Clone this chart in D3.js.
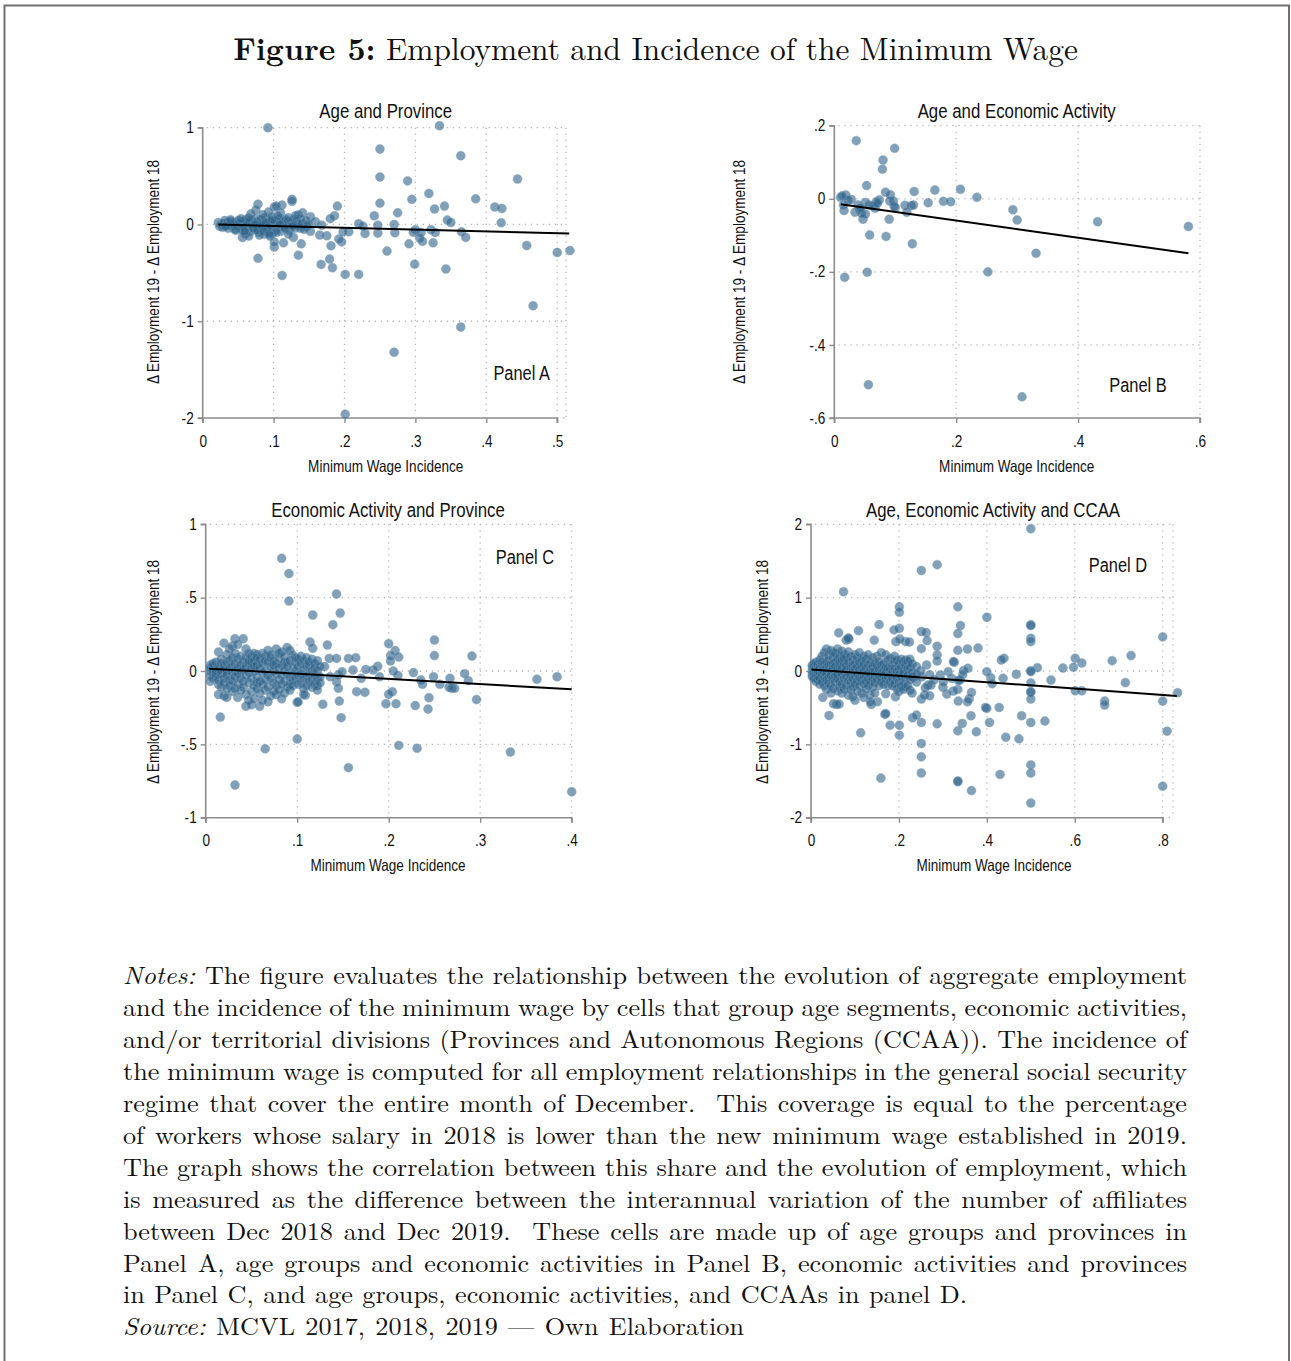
<!DOCTYPE html>
<html><head><meta charset="utf-8">
<script src="https://cdn.jsdelivr.net/npm/d3@7"></script>
<style>body{margin:0;background:#fff}svg{display:block}</style>
</head><body>
<svg id="fig" width="1291" height="1361"></svg>
<script>
// ---------------- DATA ----------------
const figureTitleBold = "Figure 5:";
const figureTitleRest = " Employment and Incidence of the Minimum Wage";
const panelTitles = ["Age and Province", "Age and Economic Activity", "Economic Activity and Province", "Age, Economic Activity and CCAA"];
const panelLabels = ["Panel A", "Panel B", "Panel C", "Panel D"];
const xAxisTitle = "Minimum Wage Incidence";
const yAxisTitle = "\u0394 Employment 19 - \u0394 Employment 18";

const xTicksA = [0, .1, .2, .3, .4, .5], xTickLabelsA = ["0", ".1", ".2", ".3", ".4", ".5"];
const yTicksA = [-2, -1, 0, 1], yTickLabelsA = ["-2", "-1", "0", "1"];
const xTicksB = [0, .2, .4, .6], xTickLabelsB = ["0", ".2", ".4", ".6"];
const yTicksB = [-.6, -.4, -.2, 0, .2], yTickLabelsB = ["-.6", "-.4", "-.2", "0", ".2"];
const xTicksC = [0, .1, .2, .3, .4], xTickLabelsC = ["0", ".1", ".2", ".3", ".4"];
const yTicksC = [-1, -.5, 0, .5, 1], yTickLabelsC = ["-1", "-.5", "0", ".5", "1"];
const xTicksD = [0, .2, .4, .6, .8], xTickLabelsD = ["0", ".2", ".4", ".6", ".8"];
const yTicksD = [-2, -1, 0, 1, 2], yTickLabelsD = ["-2", "-1", "0", "1", "2"];

// fitted lines (endpoints)
const fitA = [[0.022, 0.0], [0.517, -0.093]];
const fitB = [[0.0105, -0.015], [0.581, -0.149]];
const fitC = [[0.004, 0.016], [0.4, -0.125]];
const fitD = [[0.001, 0.02], [0.832, -0.34]];

// Panel A points (incidence, delta employment)
const pointsA = [
[0.092,1.0],[0.334,1.02],[0.25,0.78],[0.364,0.71],[0.25,0.49],[0.289,0.45],[0.444,0.47],[0.319,0.32],[0.295,0.26],[0.385,0.265],
[0.25,0.22],[0.341,0.19],[0.327,0.16],[0.412,0.18],[0.422,0.165],[0.275,0.12],[0.242,0.09],[0.19,0.19],[0.345,0.045],[0.35,0.02],
[0.421,0.017],[0.22,0.007],[0.226,-0.017],[0.27,0.0],[0.247,-0.007],[0.247,-0.09],[0.271,-0.086],[0.3,-0.055],[0.297,-0.08],[0.308,-0.083],
[0.306,-0.14],[0.31,-0.175],[0.322,-0.055],[0.328,-0.083],[0.325,-0.19],[0.365,-0.076],[0.371,-0.134],[0.206,-0.076],[0.198,-0.076],[0.229,-0.093],
[0.291,-0.2],[0.26,-0.275],[0.457,-0.217],[0.5,-0.29],[0.518,-0.27],[0.299,-0.41],[0.343,-0.46],[0.466,-0.84],[0.364,-1.06],[0.27,-1.32],
[0.201,-1.96],[0.201,-0.516],[0.22,-0.516],[0.167,-0.413],[0.183,-0.447],[0.179,-0.358],[0.181,-0.22],[0.196,-0.18],[0.192,-0.15],[0.135,-0.317],
[0.112,-0.527],[0.078,-0.35],[0.114,-0.19],[0.101,-0.234],[0.101,-0.18],[0.128,-0.134],[0.139,-0.2],[0.175,-0.117],[0.165,-0.11],[0.152,-0.07],
[0.186,0.09],[0.18,0.06],[0.141,0.12],[0.135,0.1],[0.126,0.26],[0.126,0.24],[0.112,0.2],[0.101,0.18],[0.104,0.19],[0.078,0.21],
[0.093,0.13],[0.152,0.08],[0.159,0.028],[0.168,-0.007],[0.147,-0.024],[0.138,-0.04],[0.056,-0.135],
[0.022,0.02],[0.024,-0.02],[0.026,0.0],[0.028,-0.03],[0.03,0.01],[0.031,0.04],[0.033,-0.01],[0.035,0.02],[0.036,-0.04],[0.038,0.0],
[0.04,0.03],[0.041,-0.02],[0.043,0.01],[0.045,-0.05],[0.046,0.02],[0.048,-0.01],[0.05,0.04],[0.051,-0.03],[0.053,0.0],[0.055,0.03],
[0.056,-0.06],[0.058,0.01],[0.06,-0.02],[0.061,0.05],[0.063,-0.04],[0.064,0.0],[0.066,0.02],[0.067,-0.07],[0.069,0.04],[0.07,-0.01],
[0.072,0.01],[0.073,-0.05],[0.075,0.06],[0.076,-0.02],[0.078,0.03],[0.079,-0.08],[0.081,0.0],[0.082,0.05],[0.084,-0.03],[0.085,0.02],
[0.087,-0.1],[0.088,0.07],[0.09,-0.04],[0.091,0.01],[0.093,-0.06],[0.094,0.03],[0.096,-0.01],[0.097,0.08],[0.099,-0.09],[0.1,0.0],
[0.102,0.04],[0.103,-0.05],[0.105,0.02],[0.107,-0.02],[0.108,0.06],[0.11,-0.07],[0.112,0.01],[0.113,0.04],[0.115,-0.03],[0.117,0.05],
[0.118,-0.01],[0.12,0.03],[0.122,-0.06],[0.124,0.02],[0.126,0.0],[0.128,0.05],[0.13,-0.04],[0.132,0.03],[0.134,0.0],[0.136,-0.02],
[0.138,0.06],[0.14,0.01],[0.143,-0.05],[0.146,0.04],[0.149,0.0],[0.06,-0.1],[0.065,-0.12],[0.08,-0.11],[0.095,-0.12],[0.085,0.1],
[0.11,0.12],[0.075,0.15],[0.068,0.11],[0.032,-0.02],[0.044,0.0],[0.052,0.01],[0.057,-0.03],[0.062,0.02],[0.071,-0.04],[0.074,0.0],
[0.077,-0.06],[0.083,-0.01],[0.089,0.02],[0.092,-0.03],[0.098,0.05],[0.104,-0.08],[0.109,0.0],[0.116,-0.04],[0.121,0.07],[0.127,-0.02],
[0.054,0.06],[0.059,-0.07],[0.065,0.07],[0.086,-0.07],[0.047,-0.06],[0.039,0.05],[0.121,-0.1],[0.131,0.09],[0.106,0.09],[0.094,-0.1]
];

// Panel B points
const pointsB = [
[0.036,0.159],[0.099,0.138],[0.08,0.106],[0.079,0.081],[0.053,0.036],[0.084,0.018],[0.092,0.011],[0.131,0.02],[0.165,0.024],[0.207,0.026],
[0.234,0.004],[0.01,0.004],[0.019,0.01],[0.013,0.008],[0.028,-0.002],[0.016,-0.032],[0.015,-0.017],[0.034,-0.037],[0.041,-0.029],[0.047,-0.056],
[0.051,-0.042],[0.051,-0.01],[0.057,-0.017],[0.067,-0.026],[0.074,-0.003],[0.069,-0.008],[0.063,-0.02],[0.091,-0.006],[0.097,-0.006],[0.098,-0.02],
[0.1,-0.024],[0.09,-0.056],[0.058,-0.099],[0.085,-0.103],[0.116,-0.018],[0.119,-0.037],[0.126,-0.019],[0.13,-0.017],[0.128,-0.123],[0.154,-0.011],
[0.179,-0.007],[0.191,-0.008],[0.293,-0.03],[0.3,-0.058],[0.432,-0.063],[0.581,-0.076],[0.331,-0.149],[0.252,-0.2],[0.017,-0.215],[0.054,-0.201],
[0.056,-0.509],[0.308,-0.542],[0.023,-0.004],[0.039,-0.017],[0.045,-0.04],[0.043,-0.025],[0.071,-0.012]
];

// Panel C points
const pointsC = [
[0.083,0.768],[0.091,0.664],[0.091,0.477],[0.143,0.525],[0.147,0.395],[0.117,0.382],[0.139,0.316],[0.133,0.177],[0.114,0.198],[0.117,0.155],
[0.2,0.186],[0.207,0.139],[0.202,0.105],[0.211,0.095],[0.202,0.068],[0.25,0.211],[0.25,0.105],[0.291,0.102],[0.188,0.032],[0.227,-0.011],
[0.249,-0.039],[0.283,-0.018],[0.287,-0.066],[0.362,-0.057],[0.384,-0.039],[0.296,-0.195],[0.235,-0.061],[0.237,-0.091],[0.256,-0.091],[0.267,-0.05],
[0.269,-0.118],[0.272,-0.118],[0.266,-0.111],[0.204,-0.141],[0.2,-0.159],[0.197,-0.223],[0.208,-0.223],[0.229,-0.236],[0.244,-0.182],[0.243,-0.259],
[0.211,-0.507],[0.231,-0.527],[0.333,-0.552],[0.4,-0.823],[0.156,-0.659],[0.1,-0.464],[0.065,-0.53],[0.032,-0.777],[0.016,-0.314],[0.148,-0.318],
[0.146,-0.205],[0.128,-0.227],[0.1,-0.214],[0.109,-0.164],[0.165,-0.141],[0.174,-0.145],[0.156,0.086],[0.164,0.091],[0.183,0.007],[0.17,-0.05],
[0.143,-0.073],[0.145,-0.118],[0.145,-0.027],[0.13,0.03],[0.135,0.086],[0.143,0.086],[0.149,-0.005],[0.161,0.007],[0.136,-0.039],[0.19,-0.04],
[0.175,0.01],[0.205,0.0],[0.21,-0.03],
[0.005,0.04],[0.005,0.0],[0.005,-0.03],[0.005,0.02],[0.005,-0.07],
[0.008,0.03],[0.008,-0.01],[0.008,-0.05],[0.008,0.05],
[0.011,0.06],[0.011,0.01],[0.011,-0.04],[0.011,-0.02],[0.011,0.0],
[0.014,0.13],[0.014,0.03],[0.014,-0.06],[0.014,-0.09],[0.014,0.01],[0.014,-0.16],
[0.017,0.05],[0.017,-0.02],[0.017,-0.11],[0.017,0.08],[0.017,0.0],
[0.02,0.19],[0.02,0.04],[0.02,-0.05],[0.02,-0.17],[0.02,0.01],[0.02,-0.08],
[0.023,0.11],[0.023,0.0],[0.023,-0.03],[0.023,0.06],[0.023,-0.18],[0.023,-0.12],
[0.026,0.07],[0.026,0.02],[0.026,-0.06],[0.026,-0.1],[0.026,0.15],
[0.029,0.17],[0.029,0.03],[0.029,-0.01],[0.029,-0.07],[0.029,-0.14],[0.029,0.09],
[0.032,0.22],[0.032,0.05],[0.032,0.0],[0.032,-0.04],[0.032,-0.12],[0.032,0.12],
[0.035,0.18],[0.035,0.08],[0.035,-0.02],[0.035,-0.09],[0.035,-0.18],[0.035,0.02],
[0.038,0.1],[0.038,0.04],[0.038,-0.05],[0.038,-0.13],[0.038,0.0],
[0.041,0.22],[0.041,0.06],[0.041,0.01],[0.041,-0.07],[0.041,-0.11],
[0.044,0.15],[0.044,0.09],[0.044,-0.03],[0.044,-0.16],[0.044,-0.24],[0.044,0.03],
[0.047,0.12],[0.047,0.05],[0.047,-0.01],[0.047,-0.08],[0.047,-0.2],[0.047,0.07],
[0.05,0.1],[0.05,0.02],[0.05,-0.05],[0.05,-0.14],[0.05,-0.23],[0.05,0.06],
[0.053,0.12],[0.053,0.07],[0.053,0.0],[0.053,-0.1],[0.053,-0.19],[0.053,0.03],
[0.056,0.11],[0.056,0.04],[0.056,-0.04],[0.056,-0.12],[0.056,-0.08],[0.056,0.09],
[0.059,0.08],[0.059,0.02],[0.059,-0.07],[0.059,-0.24],[0.059,-0.15],
[0.062,0.12],[0.062,0.05],[0.062,-0.01],[0.062,-0.09],[0.062,-0.2],
[0.065,0.1],[0.065,0.0],[0.065,-0.06],[0.065,-0.13],[0.065,0.07],
[0.068,0.14],[0.068,0.06],[0.068,-0.03],[0.068,-0.11],[0.068,-0.21],
[0.071,0.09],[0.071,0.03],[0.071,-0.05],[0.071,-0.17],[0.071,0.11],
[0.074,0.07],[0.074,0.0],[0.074,-0.08],[0.074,-0.14],[0.074,0.04],
[0.077,0.15],[0.077,0.05],[0.077,-0.02],[0.077,-0.1],[0.077,-0.16],
[0.08,0.09],[0.08,0.02],[0.08,-0.06],[0.08,-0.13],[0.08,0.12],
[0.083,0.13],[0.083,0.04],[0.083,-0.03],[0.083,-0.09],[0.083,-0.19],
[0.086,0.1],[0.086,0.0],[0.086,-0.07],[0.086,-0.15],[0.086,0.06],
[0.089,0.16],[0.089,0.06],[0.089,-0.02],[0.089,-0.11],[0.089,0.03],
[0.092,0.14],[0.092,0.07],[0.092,-0.04],[0.092,-0.09],[0.092,-0.13],
[0.095,0.11],[0.095,0.02],[0.095,-0.06],[0.095,-0.1],
[0.098,0.06],[0.098,0.0],[0.098,-0.05],[0.098,0.09],
[0.101,0.08],[0.101,0.03],[0.101,-0.03],[0.101,-0.09],[0.101,-0.21],
[0.104,0.05],[0.104,-0.02],[0.104,-0.08],[0.104,0.1],
[0.107,0.07],[0.107,0.01],[0.107,-0.05],[0.107,-0.12],[0.107,-0.16],
[0.11,0.09],[0.11,0.03],[0.11,-0.04],[0.11,-0.1],
[0.113,0.04],[0.113,-0.02],[0.113,-0.07],[0.113,0.06],
[0.116,0.08],[0.116,0.0],[0.116,-0.06],[0.116,-0.11],
[0.119,0.05],[0.119,-0.03],[0.119,-0.09],[0.119,0.02],
[0.122,0.07],[0.122,0.0],[0.122,-0.05],[0.122,-0.1],[0.122,-0.13],
[0.125,0.03],[0.125,-0.04],[0.125,-0.08]
];

// Panel D points
const pointsD = [
[0.5,1.94],[0.287,1.45],[0.251,1.37],[0.074,1.08],[0.201,0.875],[0.201,0.8],[0.334,0.875],[0.4,0.733],[0.5,0.63],[0.5,0.62],
[0.34,0.62],[0.155,0.633],[0.5,0.446],[0.5,0.4],[0.8,0.465],[0.201,0.583],[0.189,0.56],[0.251,0.538],[0.262,0.524],[0.334,0.51],
[0.264,0.415],[0.193,0.4],[0.215,0.4],[0.224,0.396],[0.202,0.437],[0.144,0.42],[0.108,0.55],[0.063,0.52],[0.086,0.437],[0.287,0.337],
[0.251,0.305],[0.334,0.282],[0.356,0.3],[0.38,0.314],[0.287,0.219],[0.287,0.137],[0.326,0.118],[0.439,0.173],[0.433,0.15],[0.601,0.173],
[0.616,0.109],[0.597,0.05],[0.573,0.041],[0.515,0.046],[0.5,0.005],[0.5,-0.009],[0.685,0.141],[0.728,0.21],[0.715,-0.159],[0.467,-0.046],
[0.437,-0.1],[0.409,-0.091],[0.4,-0.009],[0.412,-0.173],[0.5,-0.164],[0.5,-0.282],[0.5,-0.29],[0.5,-0.383],[0.546,-0.123],[0.601,-0.269],
[0.616,-0.269],[0.668,-0.41],[0.668,-0.465],[0.834,-0.296],[0.8,-0.41],[0.81,-0.82],[0.8,-1.57],[0.5,-0.702],[0.532,-0.683],[0.479,-0.61],
[0.473,-0.925],[0.443,-0.902],[0.428,-0.497],[0.4,-0.51],[0.397,-0.497],[0.406,-0.702],[0.364,-0.61],[0.344,-0.715],[0.334,-0.816],[0.376,-0.829],
[0.36,-0.378],[0.356,-0.419],[0.365,-0.292],[0.335,-0.41],[0.334,-0.251],[0.324,-0.273],[0.309,-0.314],[0.3,-0.223],[0.287,-0.72],[0.251,-0.702],
[0.251,-0.989],[0.251,-1.17],[0.251,-1.39],[0.334,-1.51],[0.334,-1.5],[0.365,-1.63],[0.43,-1.41],[0.5,-1.28],[0.5,-1.39],[0.5,-1.8],
[0.159,-1.46],[0.201,-0.738],[0.201,-0.875],[0.18,-0.738],[0.168,-0.592],[0.113,-0.843],[0.041,-0.606],[0.231,-0.638],[0.24,-0.601],[0.251,-0.383],
[0.258,-0.328],[0.27,-0.337],[0.266,-0.191],[0.273,-0.191],[0.301,-0.146],[0.312,-0.009],[0.294,-0.055],[0.347,0.005],[0.357,0.036],[0.339,-0.123],
[0.324,0.128],[0.263,0.082],[0.233,-0.091],[0.192,-0.351],[0.17,-0.31],[0.134,-0.328],[0.137,-0.456],[0.151,-0.419],[0.027,-0.36],[0.051,-0.446],
[0.058,-0.456],[0.064,-0.451],[0.252,-0.08],[0.27,-0.05],[0.32,-0.1],[0.28,-0.12],[0.26,-0.23],[0.335,-0.13],[0.345,-0.05],[0.25,0.0],
[0.003,0.05],[0.003,0.0],[0.003,-0.04],[0.003,0.08],[0.003,-0.08],
[0.007,0.1],[0.007,0.02],[0.007,-0.03],[0.007,-0.1],[0.007,0.06],
[0.011,0.04],[0.011,-0.01],[0.011,-0.06],[0.011,0.12],[0.011,-0.14],
[0.015,0.09],[0.015,0.01],[0.015,-0.07],[0.015,0.0],[0.015,-0.12],
[0.02,0.15],[0.02,0.06],[0.02,-0.02],[0.02,-0.1],[0.02,-0.18],
[0.025,0.2],[0.025,0.08],[0.025,0.0],[0.025,-0.05],[0.025,-0.15],[0.025,0.12],
[0.03,0.25],[0.03,0.1],[0.03,0.03],[0.03,-0.08],[0.03,-0.2],[0.03,-0.02],
[0.035,0.3],[0.035,0.12],[0.035,0.05],[0.035,-0.04],[0.035,-0.12],[0.035,-0.25],
[0.04,0.22],[0.04,0.15],[0.04,0.02],[0.04,-0.09],[0.04,-0.17],[0.04,0.08],
[0.045,0.28],[0.045,0.09],[0.045,0.0],[0.045,-0.06],[0.045,-0.2],[0.045,-0.3],
[0.05,0.18],[0.05,0.1],[0.05,0.04],[0.05,-0.1],[0.05,-0.24],[0.05,0.25],
[0.055,0.24],[0.055,0.12],[0.055,-0.02],[0.055,-0.07],[0.055,-0.15],[0.055,0.06],
[0.06,0.3],[0.06,0.16],[0.06,0.03],[0.06,-0.11],[0.06,-0.27],[0.06,-0.05],
[0.065,0.2],[0.065,0.08],[0.065,0.0],[0.065,-0.14],[0.065,-0.22],[0.065,0.12],
[0.07,0.27],[0.07,0.14],[0.07,0.05],[0.07,-0.04],[0.07,-0.18],[0.07,-0.3],
[0.075,0.23],[0.075,0.1],[0.075,-0.01],[0.075,-0.1],[0.075,-0.25],[0.075,0.17],
[0.08,0.18],[0.08,0.07],[0.08,0.02],[0.08,-0.08],[0.08,-0.2],[0.08,0.42],
[0.085,0.26],[0.085,0.12],[0.085,-0.03],[0.085,-0.13],[0.085,-0.33],[0.085,0.45],
[0.09,0.2],[0.09,0.05],[0.09,-0.06],[0.09,-0.16],[0.09,-0.25],
[0.095,0.15],[0.095,0.08],[0.095,0.0],[0.095,-0.11],[0.095,-0.22],[0.095,-0.35],
[0.1,0.22],[0.1,0.1],[0.1,0.03],[0.1,-0.07],[0.1,-0.18],[0.1,-0.4],
[0.105,0.18],[0.105,0.06],[0.105,-0.04],[0.105,-0.14],[0.105,-0.28],
[0.11,0.25],[0.11,0.12],[0.11,0.02],[0.11,-0.09],[0.11,-0.2],
[0.115,0.14],[0.115,0.05],[0.115,-0.03],[0.115,-0.12],[0.115,-0.3],
[0.12,0.2],[0.12,0.09],[0.12,0.0],[0.12,-0.08],[0.12,-0.17],[0.12,-0.36],
[0.125,0.16],[0.125,0.04],[0.125,-0.05],[0.125,-0.15],[0.125,-0.25],
[0.13,0.22],[0.13,0.08],[0.13,-0.02],[0.13,-0.11],[0.13,-0.2],
[0.135,0.12],[0.135,0.03],[0.135,-0.06],[0.135,-0.14],[0.135,-0.42],
[0.14,0.18],[0.14,0.06],[0.14,-0.01],[0.14,-0.1],[0.14,-0.22],
[0.145,0.1],[0.145,0.0],[0.145,-0.08],[0.145,-0.16],[0.145,-0.3],
[0.15,0.2],[0.15,0.07],[0.15,-0.04],[0.15,-0.12],
[0.155,0.13],[0.155,0.02],[0.155,-0.07],[0.155,-0.2],
[0.16,0.25],[0.16,0.08],[0.16,-0.03],[0.16,-0.1],[0.16,-0.15],
[0.165,0.1],[0.165,0.0],[0.165,-0.06],[0.165,-0.18],
[0.17,0.22],[0.17,0.05],[0.17,-0.02],[0.17,-0.11],[0.17,-0.58],
[0.175,0.15],[0.175,0.04],[0.175,-0.08],[0.175,-0.2],
[0.18,0.17],[0.18,0.02],[0.18,-0.05],[0.18,-0.15],
[0.185,0.08],[0.185,-0.01],[0.185,-0.1],[0.185,-0.2],
[0.19,0.12],[0.19,0.03],[0.19,-0.06],[0.19,-0.17],[0.19,0.2],
[0.195,0.15],[0.195,0.0],[0.195,-0.09],[0.195,-0.24],
[0.2,0.1],[0.2,0.02],[0.2,-0.05],[0.2,-0.15],[0.2,-0.28],
[0.205,0.16],[0.205,0.05],[0.205,-0.08],[0.205,-0.2],
[0.21,0.12],[0.21,0.0],[0.21,-0.04],[0.21,-0.18],[0.21,-0.25],
[0.215,0.08],[0.215,0.15],[0.215,-0.1],[0.215,-0.22],
[0.22,0.13],[0.22,0.03],[0.22,-0.06],[0.22,-0.2],
[0.225,0.16],[0.225,0.05],[0.225,-0.12],[0.225,-0.26],
[0.23,0.1],[0.23,-0.02],[0.23,-0.08],[0.23,-0.3],
[0.24,0.06],[0.24,-0.04],[0.24,-0.15]
];

// Notes text (one entry per printed line)
const notesLines = [
  ["Notes:", " The figure evaluates the relationship between the evolution of aggregate employment"],
  ["", "and the incidence of the minimum wage by cells that group age segments, economic activities,"],
  ["", "and/or territorial divisions (Provinces and Autonomous Regions (CCAA)). The incidence of"],
  ["", "the minimum wage is computed for all employment relationships in the general social security"],
  ["", "regime that cover the entire month of December.  This coverage is equal to the percentage"],
  ["", "of workers whose salary in 2018 is lower than the new minimum wage established in 2019."],
  ["", "The graph shows the correlation between this share and the evolution of employment, which"],
  ["", "is measured as the difference between the interannual variation of the number of affiliates"],
  ["", "between Dec 2018 and Dec 2019.  These cells are made up of age groups and provinces in"],
  ["", "Panel A, age groups and economic activities in Panel B, economic activities and provinces"],
  ["", "in Panel C, and age groups, economic activities, and CCAAs in panel D."],
  ["Source:", " MCVL 2017, 2018, 2019 \u2014 Own Elaboration"]
];
// right edge of each printed line (justified lines end at the text block's right margin)
const notesLineEnds = [1187, 1187, 1187, 1187, 1187, 1187, 1187, 1187, 1187, 1187, 967, 744];

// ---------------- LAYOUT ----------------
const panels = [
  {pts: pointsA, fit: fitA, xt: xTicksA, xl: xTickLabelsA, yt: yTicksA, yl: yTickLabelsA,
   xr: [202.7, 557.2], yr: [418, 127.7], right: 566, title: [385.7, 118], xtitle: [385.7, 472], ytitle: [153, 272], lab: [521.7, 380], xlabY: 447},
  {pts: pointsB, fit: fitB, xt: xTicksB, xl: xTickLabelsB, yt: yTicksB, yl: yTickLabelsB,
   xr: [834.3, 1200], yr: [418, 125.7], right: 1200, title: [1016.7, 118], xtitle: [1016.7, 472], ytitle: [739, 272], lab: [1138, 392], xlabY: 447},
  {pts: pointsC, fit: fitC, xt: xTicksC, xl: xTickLabelsC, yt: yTicksC, yl: yTickLabelsC,
   xr: [205.7, 571.7], yr: [817.7, 524.3], right: 571.7, title: [388, 517], xtitle: [388, 871], ytitle: [153, 672], lab: [525, 564], xlabY: 846},
  {pts: pointsD, fit: fitD, xt: xTicksD, xl: xTickLabelsD, yt: yTicksD, yl: yTickLabelsD,
   xr: [811, 1162.7], yr: [817.7, 524.3], right: 1173, title: [993, 517], xtitle: [994, 871], ytitle: [762, 672], lab: [1118, 572], xlabY: 846}
];
panels.forEach((p, i) => { p.titleText = panelTitles[i]; p.label = panelLabels[i]; });

const svg = d3.select("#fig");
const SANS = "'Liberation Sans', Arial, Helvetica, sans-serif";
const SERIF = "'Latin Modern Roman','CMU Serif','Liberation Serif','Times New Roman', serif";

function condense(sel, ratio) {
  sel.each(function () {
    const w = this.getComputedTextLength();
    d3.select(this).attr("textLength", w * ratio).attr("lengthAdjust", "spacingAndGlyphs");
  });
}

// frame
svg.append("rect").attr("x", 4.5).attr("y", 5.5).attr("width", 1284.5).attr("height", 1400)
  .attr("fill", "none").attr("stroke", "#707070").attr("stroke-width", 2);

// figure title
const ft = svg.append("text").attr("x", 655.5).attr("y", 60).attr("text-anchor", "middle")
  .attr("font-family", SERIF).attr("font-size", 28).attr("fill", "#111");
ft.append("tspan").attr("font-weight", "bold").text(figureTitleBold);
ft.append("tspan").text(figureTitleRest);
{
  const w = ft.node().getComputedTextLength();
  ft.attr("font-size", 28 * 845 / w);
}

panels.forEach(p => {
  const g = svg.append("g");
  const x = d3.scaleLinear().domain([p.xt[0], p.xt[p.xt.length - 1]]).range(p.xr);
  const y = d3.scaleLinear().domain([p.yt[0], p.yt[p.yt.length - 1]]).range(p.yr);
  const top = p.yr[1], bottom = p.yr[0], left = p.xr[0];

  // dotted grid
  const grid = g.append("g").attr("stroke", "#b8b8b8").attr("stroke-width", 1.3)
    .attr("stroke-dasharray", "1.3,4.7").attr("fill", "none");
  p.yt.slice(1).forEach(v => grid.append("line").attr("x1", left + 4).attr("x2", p.right).attr("y1", y(v)).attr("y2", y(v)));
  p.xt.slice(1).forEach(v => grid.append("line").attr("x1", x(v)).attr("x2", x(v)).attr("y1", top).attr("y2", bottom - 3));
  if (p.right > x(p.xt[p.xt.length - 1]) + 2)
    grid.append("line").attr("x1", p.right).attr("x2", p.right).attr("y1", top).attr("y2", bottom);
  grid.append("line").attr("x1", x(p.xt[p.xt.length - 1])).attr("x2", p.right).attr("y1", bottom).attr("y2", bottom);

  // axes
  const yAxis = d3.axisLeft(y).tickValues(p.yt).tickFormat((d, i) => p.yl[i]).tickSize(5).tickPadding(4);
  const xAxis = d3.axisBottom(x).tickValues(p.xt).tickFormat((d, i) => p.xl[i]).tickSize(5).tickPadding(5);
  const ya = g.append("g").attr("transform", `translate(${left},0)`).call(yAxis);
  const xa = g.append("g").attr("transform", `translate(0,${bottom})`).call(xAxis);
  [ya, xa].forEach(a => {
    a.select(".domain").attr("stroke", "#8c8c8c").attr("stroke-width", 1.6);
    a.selectAll(".tick line").attr("stroke", "#8c8c8c").attr("stroke-width", 1.4);
    a.selectAll(".tick text").attr("font-family", SANS).attr("font-size", 16).attr("fill", "#111");
  });
  ya.select(".domain").attr("d", `M-5,${bottom}H0V${top}H-5`);
  xa.select(".domain").attr("d", `M${left},5V0H${x(p.xt[p.xt.length - 1])}V5`);
  condense(ya.selectAll(".tick text"), 0.85);
  condense(xa.selectAll(".tick text"), 0.85);
  xa.selectAll(".tick text").attr("dy", null).attr("y", p.xlabY - bottom).attr("dominant-baseline", "auto");

  // points
  g.append("g").selectAll("circle").data(p.pts).join("circle")
    .attr("cx", d => x(d[0])).attr("cy", d => y(d[1])).attr("r", 4.5)
    .attr("fill", "#2f6288").attr("fill-opacity", 0.6)
    .attr("stroke", "#7ea2bd").attr("stroke-opacity", 0.5).attr("stroke-width", 0.8);

  // fit line
  g.append("path").datum(p.fit)
    .attr("d", d3.line().x(d => x(d[0])).y(d => y(d[1])))
    .attr("stroke", "#000").attr("stroke-width", 2).attr("fill", "none");

  // titles
  const t = g.append("text").attr("x", p.title[0]).attr("y", p.title[1]).attr("text-anchor", "middle")
    .attr("font-family", SANS).attr("font-size", 20.5).attr("fill", "#111").text(p.titleText);
  condense(t, 0.82);
  const xt = g.append("text").attr("x", p.xtitle[0]).attr("y", p.xtitle[1]).attr("text-anchor", "middle")
    .attr("font-family", SANS).attr("font-size", 16.5).attr("fill", "#111").text(xAxisTitle);
  condense(xt, 0.82);
  const yt = g.append("text").attr("transform", `translate(${p.ytitle[0] + 6},${p.ytitle[1]}) rotate(-90)`)
    .attr("text-anchor", "middle").attr("font-family", SANS).attr("font-size", 16.5).attr("fill", "#111").text(yAxisTitle);
  condense(yt, 0.82);
  const lb = g.append("text").attr("x", p.lab[0]).attr("y", p.lab[1]).attr("text-anchor", "middle")
    .attr("font-family", SANS).attr("font-size", 20).attr("fill", "#111").text(p.label);
  condense(lb, 0.82);
});

// notes (glyphs slightly widened horizontally, then justified with word spacing)
const NL = 123, NY = 984, NSTEP = 31.95, NSX = 1.07;
const notesG = svg.append("g").attr("transform", `translate(${NL},0) scale(${NSX},1)`);
notesLines.forEach((ln, i) => {
  const t = notesG.append("text").attr("x", 0).attr("y", NY + i * NSTEP)
    .attr("font-family", SERIF).attr("font-size", 24.5).attr("fill", "#111")
    .attr("xml:space", "preserve").style("white-space", "pre");
  if (ln[0]) t.append("tspan").attr("font-style", "italic").text(ln[0]);
  t.append("tspan").text(ln[1]);
  const w = t.node().getComputedTextLength();
  const full = ln[0] + ln[1];
  const n = (full.match(/ /g) || []).length;
  t.attr("word-spacing", ((notesLineEnds[i] - NL) / NSX - w) / n);
});
</script>
</body></html>
